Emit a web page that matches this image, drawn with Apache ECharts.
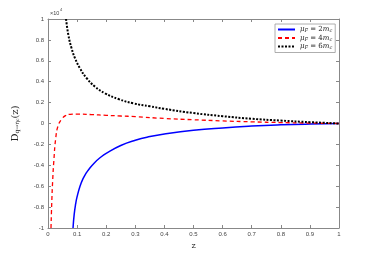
<!DOCTYPE html>
<html><head><meta charset="utf-8">
<script src="https://cdn.jsdelivr.net/npm/echarts@6/dist/echarts.min.js"></script>
<style>html,body{margin:0;padding:0;background:#fff}#c{width:374px;height:257px}</style>
</head><body><div id="c"></div>
<script>
// values in units of 10^4
const xTicks = [0,0.1,0.2,0.3,0.4,0.5,0.6,0.7,0.8,0.9,1];
const yTicks = [-1,-0.8,-0.6,-0.4,-0.2,0,0.2,0.4,0.6,0.8,1];
const blueX = [0.086,0.09,0.095,0.1,0.11,0.12,0.13,0.14,0.16,0.18,0.2,0.25,0.3,0.35,0.4,0.5,0.6,0.7,0.8,0.9,1.0];
const blueY = [-1,-0.87,-0.77,-0.7,-0.6,-0.53,-0.48,-0.44,-0.375,-0.325,-0.285,-0.21,-0.16,-0.125,-0.1,-0.065,-0.042,-0.025,-0.013,-0.005,0];
const redX = [0.0103,0.013,0.016,0.02,0.027,0.035,0.047,0.06,0.076,0.1,0.15,0.2,0.25,0.3,0.4,0.5,0.6,0.7,0.8,0.9,1.0];
const redY = [-1,-0.75,-0.55,-0.36,-0.13,-0.02,0.04,0.075,0.088,0.09,0.085,0.078,0.072,0.066,0.048,0.036,0.025,0.016,0.009,0.004,0];
const blackX = [0.062,0.07,0.081,0.093,0.11,0.133,0.162,0.196,0.242,0.293,0.35,0.4,0.5,0.6,0.7,0.8,0.9,1.0];
const blackY = [1,0.847,0.72,0.624,0.528,0.433,0.352,0.289,0.234,0.193,0.165,0.14,0.1,0.07,0.045,0.028,0.013,0];
const names = ['mu2','mu4','mu6'];
const labels = {mu2:'{i|μ}{s|F}{t| = 2}{i|m}{s|c}', mu4:'{i|μ}{s|F}{t| = 4}{i|m}{s|c}', mu6:'{i|μ}{s|F}{t| = 6}{i|m}{s|c}'};

const zip = (xs, ys) => xs.map((x,i)=>[x, ys[i]]);
const axisCol = '#888';
const tickFont = {fontSize:6, color:'#444', fontFamily:'Liberation Sans'};
const chart = echarts.init(document.getElementById('c'), null, {renderer:'canvas'});
const common = {min:-1,max:1,interval:0.2};
chart.setOption({
  animation:false,
  grid:{left:48,right:35,top:19,bottom:29},
  xAxis:[
    {type:'value',min:0,max:1,interval:0.1,position:'bottom',
     axisLine:{onZero:false,lineStyle:{color:axisCol,width:1}},
     axisTick:{inside:true,length:3,lineStyle:{color:axisCol}},
     splitLine:{show:false},
     axisLabel:Object.assign({margin:3,formatter:v=>String(+v.toFixed(1))},tickFont),
     name:'z',nameLocation:'middle',nameGap:10,
     nameTextStyle:{fontSize:8,fontFamily:'DejaVu Serif',color:'#222'}},
    {type:'value',min:0,max:1,interval:0.1,position:'top',
     axisLine:{onZero:false,lineStyle:{color:axisCol,width:1}},
     axisTick:{inside:true,length:3,lineStyle:{color:axisCol}},
     splitLine:{show:false},axisLabel:{show:false}}
  ],
  yAxis:[
    Object.assign({type:'value',position:'left',
     axisLine:{show:true,onZero:false,lineStyle:{color:axisCol,width:1}},
     axisTick:{show:true,inside:true,length:3,lineStyle:{color:axisCol}},
     splitLine:{show:false},
     axisLabel:Object.assign({margin:4,formatter:v=>String(+v.toFixed(1))},tickFont),
     name:'{a|D}{b|q→η}{c|c}{a|(z)}',nameLocation:'middle',nameGap:28,nameRotate:90,
     nameTextStyle:{rich:{
       a:{fontSize:10,fontFamily:'DejaVu Serif',color:'#222',lineHeight:16,verticalAlign:'bottom'},
       b:{fontSize:6,fontFamily:'DejaVu Serif',color:'#222',lineHeight:8,verticalAlign:'bottom'},
       c:{fontSize:4.5,fontFamily:'DejaVu Serif',color:'#222',lineHeight:6,verticalAlign:'bottom'}
     }}},common),
    Object.assign({type:'value',position:'right',
     axisLine:{show:true,onZero:false,lineStyle:{color:axisCol,width:1}},
     axisTick:{show:true,inside:true,length:3,lineStyle:{color:axisCol}},
     splitLine:{show:false},axisLabel:{show:false}},common)
  ],
  legend:{
    orient:'vertical',left:275,top:24,
    itemWidth:17,itemHeight:6,itemGap:1,padding:[2,3,2,2],
    borderColor:'#999',borderWidth:0.8,backgroundColor:'#fff',
    itemStyle:{opacity:0},
    formatter:n=>labels[n],
    textStyle:{fontSize:7,fontFamily:'DejaVu Serif',color:'#222',
      rich:{
        i:{fontSize:7,fontFamily:'DejaVu Serif',fontStyle:'italic',color:'#222',lineHeight:8},
        s:{fontSize:5,fontFamily:'DejaVu Serif',fontStyle:'italic',color:'#222',verticalAlign:'bottom',lineHeight:6},
        t:{fontSize:7,fontFamily:'DejaVu Serif',color:'#222',lineHeight:8}
      }},
    data:names
  },
  graphic:[{type:'text',left:50,top:10,style:{text:'×10',fontSize:5.5,fill:'#444',fontFamily:'Liberation Sans'}},
           {type:'text',left:60,top:8,style:{text:'4',fontSize:4,fill:'#444',fontFamily:'Liberation Sans'}}],
  series:[
    {name:names[0],type:'line',data:zip(blueX,blueY),symbol:'none',smooth:true,clip:true,
     lineStyle:{color:'#0000ff',width:1.5,type:'solid'},itemStyle:{color:'#0000ff'}},
    {name:names[1],type:'line',data:zip(redX,redY),symbol:'none',smooth:true,clip:true,
     lineStyle:{color:'#ff0000',width:1.3,type:[4,3]},itemStyle:{color:'#ff0000'}},
    {name:names[2],type:'line',data:zip(blackX,blackY),symbol:'none',smooth:true,clip:true,
     lineStyle:{color:'#000',width:2,type:[2,1.5]},itemStyle:{color:'#000'}}
  ]
});
</script></body></html>
